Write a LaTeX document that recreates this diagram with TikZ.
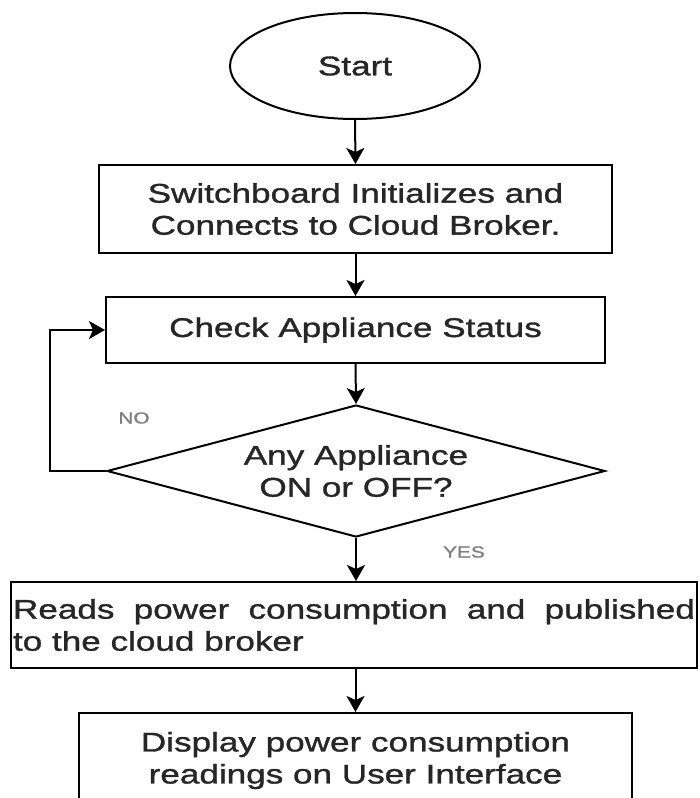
\documentclass[tikz,border=0pt]{standalone}
\usepackage{fontspec}
\setmainfont[FakeStretch=1.3,FakeBold=1.2]{Liberation Sans}
\usetikzlibrary{shapes.geometric,arrows.meta,positioning}
\hyphenpenalty=10000
\tolerance=9999

\begin{document}
\begin{tikzpicture}[x=1pt,y=-1pt,
    box/.style={draw,line width=2pt,text=black!85,inner sep=2pt,
        font=\fontsize{27}{32}\selectfont,align=center},
    arr/.style={line width=2pt,-{Stealth[length=16pt,width=18pt,inset=4pt]}},
    lbl/.style={font=\fontsize{16}{18}\selectfont,text=black!50}]
    \useasboundingbox (0,0) rectangle (700,798);
    \clip (0,0) rectangle (700,798);

    % Blocks
    \node[box,ellipse,minimum width=250pt,minimum height=106pt] (start) at (355,66) {Start};
    \node[box,minimum width=513pt,minimum height=88pt] (init) at (355.5,209)
        {Switchboard Initializes and\\Connects to Cloud Broker.};
    \node[box,minimum width=499pt,minimum height=66pt] (check) at (355.5,330)
        {Check Appliance Status};
    \node[box,diamond,shape aspect=3.77,inner sep=1pt,minimum width=498pt,minimum height=132pt]
        (dec) at (356,471) {Any Appliance\\ON or OFF?};
    \node[box,text width=682pt,align=justify,minimum height=86pt] (read) at (354,625)
        {Reads power consumption and published\linebreak to the cloud broker};
    \node[box,minimum width=553pt,minimum height=95pt] (disp) at (355.5,760.5)
        {Display power consumption\\readings on User Interface};

    % Labels
    \node[lbl] (no) at (134,418) {NO};
    \node[lbl] (yes) at (464,552) {YES};

    % Connectors
    \draw[arr] (start.south) -- (init.north);
    \draw[arr] (init.south) -- (check.north);
    \draw[arr] (check.south) -- (dec.north);
    \draw[arr] (dec.south) -- (read.north -| dec.south);
    \draw[arr] (read.south -| disp.north) -- (disp.north);
    \draw[arr] (dec.west) -- ++(-56,0) |- (check.west); % loop back
\end{tikzpicture}
\end{document}
